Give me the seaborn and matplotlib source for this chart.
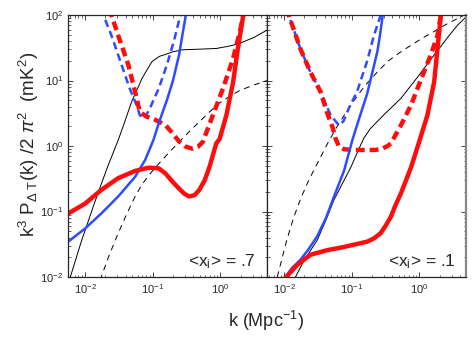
import numpy as np
import pandas as pd
import seaborn as sns
import matplotlib.pyplot as plt

# values, stored as log10(k) and log10(power)

# left panel, <x_i> = .7
left_black_k = [-2.25, -2.2, -2.05, -1.81, -1.66, -1.51, -1.41, -1.31, -1.21, -1.16, -1.08, -1.01, -0.9, -0.81, -0.7, -0.56, -0.3, -0.06, 0.15, 0.29, 0.5, 0.69]
left_black_p = [-2.1, -1.94, -1.44, -0.72, -0.3, 0.09, 0.38, 0.68, 0.91, 1.03, 1.17, 1.29, 1.37, 1.40, 1.44, 1.47, 1.48, 1.49, 1.53, 1.57, 1.66, 1.77]
left_blackdash_k = [-1.78, -1.64, -1.51, -1.38, -1.26, -1.16, -1.06, -0.91, -0.76, -0.61, -0.46, -0.31, -0.16, -0.01, 0.14, 0.29, 0.49, 0.69]
left_blackdash_p = [-2.05, -1.66, -1.33, -1.03, -0.77, -0.59, -0.45, -0.27, -0.1, 0.06, 0.22, 0.37, 0.52, 0.66, 0.76, 0.85, 0.93, 1.0]
left_blue_k = [-2.25, -2.0, -1.76, -1.51, -1.26, -1.11, -0.99, -0.9, -0.79, -0.7, -0.61, -0.56, -0.51, -0.49]
left_blue_p = [-1.46, -1.26, -1.03, -0.77, -0.47, -0.21, 0.09, 0.38, 0.7, 1.0, 1.39, 1.7, 2.0, 2.1]
left_bluedash_k = [-1.76, -1.73, -1.61, -1.46, -1.34, -1.24, -1.19, -1.12, -1.04, -0.91, -0.79, -0.69, -0.59, -0.56]
left_bluedash_p = [2.1, 2.0, 1.69, 1.24, 0.88, 0.63, 0.47, 0.42, 0.58, 0.88, 1.24, 1.59, 2.0, 2.15]
left_red_k = [-2.25, -2.0, -1.76, -1.51, -1.26, -1.06, -0.91, -0.81, -0.71, -0.61, -0.53, -0.46, -0.38, -0.31, -0.23, -0.16, -0.06, -0.01, 0.09, 0.19, 0.26, 0.34, 0.37]
left_red_p = [-1.03, -0.88, -0.67, -0.49, -0.38, -0.33, -0.34, -0.42, -0.54, -0.65, -0.73, -0.77, -0.75, -0.67, -0.52, -0.32, 0.04, 0.11, 0.47, 0.98, 1.49, 2.0, 2.1]
left_reddash_k = [-1.64, -1.61, -1.51, -1.36, -1.26, -1.19, -1.09, -0.96, -0.81, -0.71, -0.61, -0.51, -0.41, -0.33, -0.26, -0.11, 0.04, 0.19, 0.29, 0.34, 0.36]
left_reddash_p = [2.1, 2.0, 1.69, 1.24, 0.83, 0.52, 0.45, 0.40, 0.32, 0.2, 0.07, -0.01, -0.04, -0.01, 0.06, 0.47, 0.88, 1.34, 1.75, 2.0, 2.1]

# right panel, <x_i> = .1
right_black_k = [-1.83, -1.7, -1.51, -1.38, -1.26, -1.13, -1.01, -0.9, -0.82, -0.72, -0.52, -0.27, -0.02, 0.22, 0.45, 0.57, 0.72]
right_black_p = [-2.0, -1.74, -1.44, -1.13, -0.82, -0.56, -0.32, -0.06, 0.12, 0.27, 0.48, 0.73, 1.06, 1.39, 1.7, 1.85, 2.0]
right_blackdash_k = [-2.1, -1.96, -1.86, -1.76, -1.66, -1.56, -1.45, -1.34, -1.22, -1.11, -0.99, -0.87, -0.77, -0.62, -0.47, -0.3, -0.12, 0.05, 0.22, 0.4, 0.57, 0.72]
right_blackdash_p = [-2.0, -1.44, -1.1, -0.82, -0.58, -0.37, -0.15, 0.07, 0.29, 0.47, 0.66, 0.83, 0.96, 1.13, 1.29, 1.42, 1.54, 1.65, 1.75, 1.86, 1.95, 2.03]
right_blue_k = [-1.98, -1.88, -1.76, -1.64, -1.51, -1.38, -1.26, -1.11, -0.99, -0.88, -0.77, -0.7, -0.62, -0.58, -0.54, -0.52]
right_blue_p = [-2.0, -1.86, -1.74, -1.58, -1.38, -1.1, -0.77, -0.37, 0.09, 0.45, 0.8, 1.1, 1.44, 1.7, 2.0, 2.1]
right_bluedash_k = [-1.96, -1.93, -1.76, -1.61, -1.46, -1.31, -1.19, -1.12, -1.04, -0.92, -0.77, -0.67, -0.57, -0.52]
right_bluedash_p = [2.1, 2.0, 1.49, 1.13, 0.83, 0.47, 0.32, 0.38, 0.58, 0.83, 1.3, 1.69, 2.0, 2.15]
right_red_k = [-2.0, -1.81, -1.61, -1.36, -1.11, -0.77, -0.67, -0.57, -0.5, -0.42, -0.35, -0.27, -0.12, 0.0, 0.12, 0.22, 0.27, 0.32, 0.34]
right_red_p = [-2.04, -1.82, -1.66, -1.59, -1.54, -1.46, -1.41, -1.33, -1.22, -1.08, -0.9, -0.72, -0.32, 0.07, 0.47, 0.98, 1.49, 2.0, 2.1]
right_reddash_k = [-1.96, -1.93, -1.76, -1.61, -1.46, -1.36, -1.28, -1.24, -1.19, -1.11, -0.95, -0.8, -0.65, -0.55, -0.47, -0.42, -0.35, -0.27, -0.12, 0.03, 0.17, 0.27, 0.32, 0.34]
right_reddash_p = [2.1, 2.0, 1.49, 1.13, 0.83, 0.5, 0.28, 0.12, 0.0, -0.05, -0.06, -0.06, -0.06, -0.04, 0.0, 0.04, 0.17, 0.32, 0.63, 1.03, 1.39, 1.69, 2.0, 2.1]

panel_labels = ["<x$_\\mathrm{i}$> = .7", "<x$_\\mathrm{i}$> = .1"]

sns.set_style("ticks")
plt.rcParams['font.family'] = ['Liberation Sans', 'DejaVu Sans']
plt.rcParams['mathtext.fontset'] = 'custom'
plt.rcParams['mathtext.rm'] = 'Liberation Sans'
plt.rcParams['mathtext.it'] = 'Liberation Sans:italic'
plt.rcParams['mathtext.sf'] = 'Liberation Sans'

red = "#ff0d0d"
blue = "#2d4bff"
styles = {
    "black": dict(color="black", lw=0.7, ls="-"),
    "blackdash": dict(color="black", lw=0.7, ls=(0, (6, 5))),
    "blue": dict(color=blue, lw=1.8, ls="-"),
    "bluedash": dict(color=blue, lw=1.8, ls=(0, (3.0, 1.8))),
    "red": dict(color=red, lw=3.2, ls="-"),
    "reddash": dict(color=red, lw=3.2, ls=(0, (2.0, 1.1))),
}

panels = [
    {"black": (left_black_k, left_black_p), "blackdash": (left_blackdash_k, left_blackdash_p),
     "bluedash": (left_bluedash_k, left_bluedash_p), "reddash": (left_reddash_k, left_reddash_p),
     "blue": (left_blue_k, left_blue_p), "red": (left_red_k, left_red_p)},
    {"black": (right_black_k, right_black_p), "blackdash": (right_blackdash_k, right_blackdash_p),
     "bluedash": (right_bluedash_k, right_bluedash_p), "reddash": (right_reddash_k, right_reddash_p),
     "blue": (right_blue_k, right_blue_p), "red": (right_red_k, right_red_p)},
]

fig, axes = plt.subplots(1, 2, figsize=(4.74, 3.43), dpi=100, sharey=True)
fig.subplots_adjust(left=0.1435, right=0.983, bottom=0.1924, top=0.956, wspace=0)

for ax, curves, lab, xr in zip(axes, panels, panel_labels, [0.944, 0.95]):
    for name, (lk, lp) in curves.items():
        df = pd.DataFrame({"k": 10 ** np.array(lk), "p": 10 ** np.array(lp)})
        st = styles[name]
        sns.lineplot(data=df, x="k", y="p", ax=ax, color=st["color"], lw=st["lw"],
                     ls=st["ls"], estimator=None, sort=True)
    ax.set_xscale("log")
    ax.set_yscale("log")
    ax.set_xlim(5.6e-3, 4.9)
    ax.set_ylim(1e-2, 1e2)
    ax.set_xlabel("")
    ax.set_ylabel("")
    ax.tick_params(which="both", direction="in", top=True, right=True, labelsize=8)
    ax.tick_params(which="major", length=3.5, width=0.6)
    ax.tick_params(which="minor", length=1.8, width=0.5)
    for sp in ax.spines.values():
        sp.set_linewidth(0.9)
    ax.text(xr, 0.042, lab, transform=ax.transAxes, ha="right", va="baseline", fontsize=12.5)

axes[1].tick_params(axis="y", which="both", labelleft=False)
axes[1].spines["right"].set_color("#888888")
axes[1].spines["right"].set_linewidth(1.6)

fig.text(0.5615, 0.028, "k (Mpc$^{-1}$)", ha="center", va="bottom", fontsize=13)
fig.text(0.062, 0.58, "k$^3$ P$_{\\Delta\\ \\mathrm{T}}$(k) /2 $\\pi^2$  (mK$^2$)",
         rotation=90, ha="center", va="center", fontsize=13.5)

fig.savefig("out.png", dpi=100)
